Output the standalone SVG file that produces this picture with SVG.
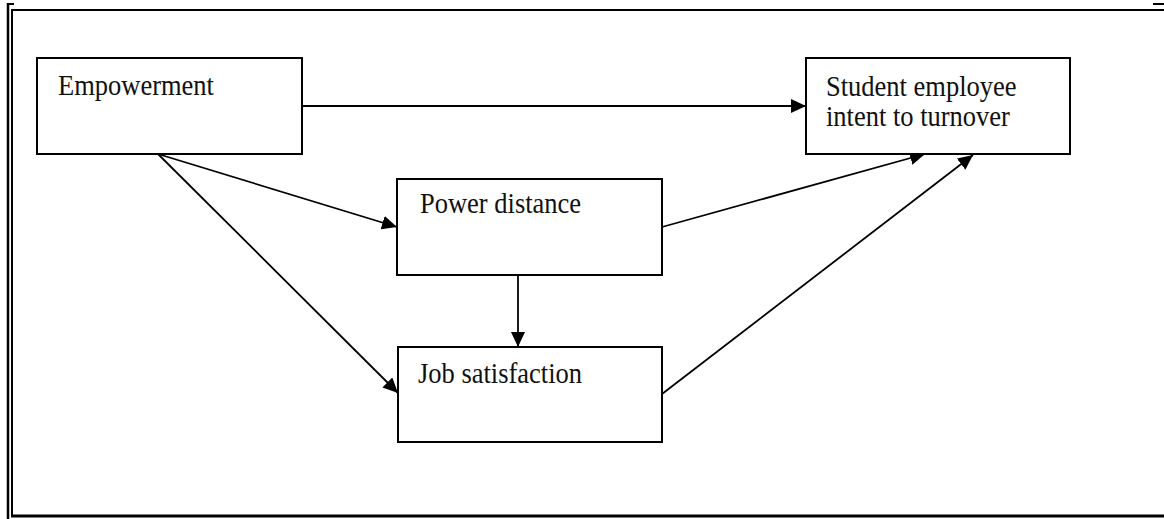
<svg xmlns="http://www.w3.org/2000/svg" width="1164" height="519" viewBox="0 0 1164 519">
  <style>
    .box { fill: #ffffff; stroke: #000000; stroke-width: 2; }
    .lbl { font-family: "Liberation Serif", "Times New Roman", serif; font-size: 26.5px; fill: #111111; }
    .conn { stroke: #000000; stroke-width: 1.8; fill: none; marker-end: url(#arr); }
    .frame { stroke: #000000; fill: none; }
  </style>
  <defs>
    <marker id="arr" markerUnits="userSpaceOnUse" markerWidth="16" markerHeight="15" refX="15" refY="7" orient="auto">
      <path d="M0,0 L15,7 L0,14 z" fill="#000000"/>
    </marker>
  </defs>
  <rect x="0" y="0" width="1164" height="519" fill="#ffffff"/>
  <g id="frame">
    <line class="frame" x1="8" y1="3" x2="8" y2="519" stroke-width="2.5"/>
    <line class="frame" x1="12" y1="10" x2="12" y2="516" stroke-width="2"/>
    <line class="frame" x1="11" y1="10" x2="1164" y2="10" stroke-width="2"/>
    <line class="frame" x1="7" y1="4" x2="14" y2="4" stroke-width="2"/>
    <line class="frame" x1="1153" y1="4" x2="1164" y2="4" stroke-width="2"/>
    <line class="frame" x1="11" y1="516" x2="1164" y2="516" stroke-width="3"/>
  </g>
  <g id="connectors">
    <line class="conn" x1="302" y1="106" x2="806" y2="106"/>
    <line class="conn" x1="158" y1="154" x2="397" y2="227"/>
    <line class="conn" x1="158" y1="154" x2="398" y2="393"/>
    <line class="conn" x1="662" y1="227" x2="925" y2="154"/>
    <line class="conn" x1="662" y1="394" x2="973" y2="155"/>
    <line class="conn" x1="518" y1="275" x2="518" y2="347"/>
  </g>
  <g id="empowerment">
    <rect class="box" x="37" y="58" width="265" height="96"/>
    <text class="lbl" transform="translate(58,95) scale(1,1.13)">Empowerment</text>
  </g>
  <g id="turnover">
    <rect class="box" x="806" y="58" width="264" height="96"/>
    <text class="lbl" transform="translate(826,95.5) scale(1,1.13)">Student employee</text>
    <text class="lbl" transform="translate(826,125.5) scale(1,1.13)">intent to turnover</text>
  </g>
  <g id="power-distance">
    <rect class="box" x="397" y="179" width="265" height="96"/>
    <text class="lbl" transform="translate(420,213) scale(1,1.13)">Power distance</text>
  </g>
  <g id="job-satisfaction">
    <rect class="box" x="398" y="347" width="264" height="95"/>
    <text class="lbl" transform="translate(418,382.5) scale(1,1.13)">Job satisfaction</text>
  </g>
</svg>
